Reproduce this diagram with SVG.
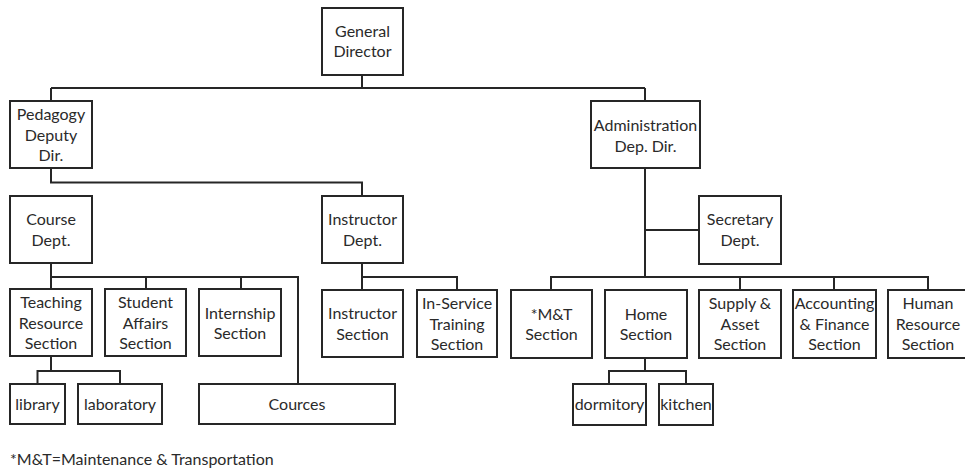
<svg xmlns="http://www.w3.org/2000/svg" width="965" height="470" viewBox="0 0 965 470">
<style>
rect{fill:#fff;stroke:#262626;stroke-width:2}
.c path{fill:none;stroke:#262626;stroke-width:2}
text{font-family:Lato,"Liberation Sans",sans-serif;font-size:16px;fill:#2a2a2a;text-anchor:middle}
.fn{text-anchor:start}
</style>
<rect x="0" y="0" width="965" height="470" style="stroke:none"/>
<g class="c" id="connectors">
<path d="M362 75V88M51 88H645M51 88V101M645 88V101"/>
<path d="M51 168V182.5H362V196"/>
<path d="M645 168V277M645 230H699"/>
<path d="M51 263V277H298V384M146 277V289M241 277V289M51 277V289"/>
<path d="M362 263V277H457V290M362 277V290"/>
<path d="M551 290V277H928V290M740 277V290M834 277V290"/>
<path d="M51 356V371M37.5 384V371H120V384"/>
<path d="M645 358V371M609 384V371H686V384"/>
</g>
<g id="general-director"><rect x="322" y="8" width="81" height="67"/><text x="362.5" y="37">General</text><text x="362.5" y="57">Director</text></g>
<g id="pedagogy"><rect x="10" y="101" width="82" height="67"/><text x="51" y="120">Pedagogy</text><text x="51" y="140.5">Deputy</text><text x="51" y="161">Dir.</text></g>
<g id="administration"><rect x="591" y="101" width="109" height="67"/><text x="645.5" y="131">Administration</text><text x="645.5" y="151.5">Dep. Dir.</text></g>
<g id="course-dept"><rect x="10" y="196" width="82" height="67"/><text x="51" y="225">Course</text><text x="51" y="245.5">Dept.</text></g>
<g id="instructor-dept"><rect x="322" y="196" width="81" height="67"/><text x="362.5" y="225">Instructor</text><text x="362.5" y="245.5">Dept.</text></g>
<g id="secretary-dept"><rect x="699" y="196" width="82" height="68"/><text x="740" y="225">Secretary</text><text x="740" y="245.5">Dept.</text></g>
<g id="teaching-resource"><rect x="10" y="289" width="82" height="67"/><text x="51" y="308">Teaching</text><text x="51" y="328.5">Resource</text><text x="51" y="349">Section</text></g>
<g id="student-affairs"><rect x="105" y="289" width="81" height="67"/><text x="145.5" y="308">Student</text><text x="145.5" y="328.5">Affairs</text><text x="145.5" y="349">Section</text></g>
<g id="internship"><rect x="199" y="289" width="82" height="67"/><text x="240" y="318.5">Internship</text><text x="240" y="339">Section</text></g>
<g id="instructor-section"><rect x="322" y="290" width="81" height="67"/><text x="362.5" y="319">Instructor</text><text x="362.5" y="339.5">Section</text></g>
<g id="in-service"><rect x="417" y="290" width="80" height="67"/><text x="457" y="309">In-Service</text><text x="457" y="329.5">Training</text><text x="457" y="350">Section</text></g>
<g id="mt-section"><rect x="511" y="290" width="81" height="68"/><text x="551.5" y="319.5">*M&amp;T</text><text x="551.5" y="340">Section</text></g>
<g id="home-section"><rect x="605" y="290" width="82" height="68"/><text x="646" y="319.5">Home</text><text x="646" y="340">Section</text></g>
<g id="supply-asset"><rect x="699" y="290" width="82" height="68"/><text x="740" y="309">Supply &amp;</text><text x="740" y="329.5">Asset</text><text x="740" y="350">Section</text></g>
<g id="accounting-finance"><rect x="793" y="290" width="83" height="68"/><text x="834.5" y="309">Accounting</text><text x="834.5" y="329.5">&amp; Finance</text><text x="834.5" y="350">Section</text></g>
<g id="human-resource"><rect x="888" y="290" width="81" height="68"/><text x="928" y="309">Human</text><text x="928" y="329.5">Resource</text><text x="928" y="350">Section</text></g>
<g id="library"><rect x="10" y="384" width="55" height="40"/><text x="37.5" y="409.5">library</text></g>
<g id="laboratory"><rect x="78" y="384" width="84" height="40"/><text x="120" y="409.5">laboratory</text></g>
<g id="cources"><rect x="199" y="384" width="196" height="40"/><text x="297" y="409.5">Cources</text></g>
<g id="dormitory"><rect x="573" y="384" width="73" height="41"/><text x="609.5" y="410">dormitory</text></g>
<g id="kitchen"><rect x="659" y="384" width="54" height="41"/><text x="686" y="410">kitchen</text></g>
<text class="fn" x="10" y="465">*M&amp;T=Maintenance &amp; Transportation</text>
</svg>
